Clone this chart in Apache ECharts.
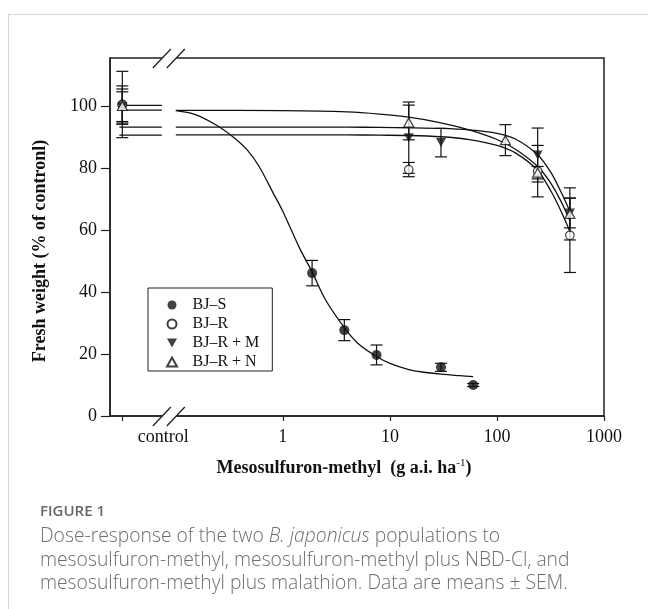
<!DOCTYPE html>
<html>
<head>
<meta charset="utf-8">
<title>Dose-response of B. japonicus</title>
<script src="https://cdn.jsdelivr.net/npm/echarts@6/dist/echarts.min.js"></script>
<style>
    html, body { margin: 0; padding: 0; background: #fff; }
    #card { position: absolute; left: 8px; top: 14px; right: 0; bottom: 0; border-top: 1px solid #d6d6d6; border-left: 1px solid #d6d6d6; }
    #chart { position: absolute; left: 0; top: 0; width: 648px; height: 609px; }
</style>
</head>
<body>
<div id="card"></div>
<div id="chart"></div>
<script>
// tick labels
var xTickDoses = ['control', 1, 10, 100, 1000];
var yTicks = [0, 20, 40, 60, 80, 100];

var sDose = ['control', 1.875, 3.75, 7.5, 30, 60];
var sMean = [100.5, 46.1, 27.7, 19.7, 15.7, 10.0];
var sSem = [10.7, 4.1, 3.4, 3.2, 1.3, 0.5];

var rDose = ['control', 15, 240, 480];
var rMean = [100.3, 79.5, 79.0, 58.3];
var rSem = [6.2, 2.3, 8.3, 12.0];

var mDose = ['control', 15, 30, 240, 480];
var mMean = [99.8, 89.8, 88.2, 84.2, 65.5];
var mSem = [4.8, 11.5, 4.6, 8.7, 4.8];

var nDose = ['control', 15, 120, 240, 480];
var nMean = [100, 94.7, 89.0, 78.5, 65.2];
var nSem = [5.5, 5.6, 5.0, 2.0, 8.4];

// fitted curves
var ctrlSegDose = [0.0297, 0.074];
var sCtrlFit = [100.2, 100.2];
var nCtrlFit = [98.7, 98.7];
var mCtrlFit = [93.2, 93.2];
var rCtrlFit = [90.6, 90.6];

var sFitDose = [0.1, 0.15, 0.24, 0.35, 0.46, 0.6, 0.81, 1.0, 1.44, 1.875, 2.5, 3.75, 5, 7.5, 10, 15, 20, 30, 45, 60];
var sFit = [98.5, 97.3, 93.8, 89.8, 86, 80.5, 72, 66, 54, 46.5, 37.5, 28.5, 23.5, 19.2, 17, 15, 14.2, 13.5, 13, 12.7];

var rFitDose = [0.1, 1, 4, 8, 15, 30, 55, 100, 150, 240, 320, 400, 480];
var nFit = [98.6, 98.5, 98.1, 97.4, 96.4, 94.6, 92.3, 89.2, 86, 80.5, 75, 69, 63];
var mFit = [93.2, 93.2, 93.2, 93.1, 93.0, 92.8, 92.3, 91.2, 89.3, 84.3, 78.5, 72, 66];
var rFit = [90.7, 90.7, 90.7, 90.6, 90.5, 90.1, 89.2, 87.3, 84.8, 79.2, 72.5, 65.8, 59.5];

var CONTROL_POS = -1.5;   // control column on the log10 dose axis
var BREAK_DOSE = 0.086;   // where the axis break sits
var X_MIN = -1.615, X_MAX = 3, Y_MAX = 115.5;

var serif = "'Times New Roman', 'Liberation Serif', serif";
var ink = '#111';

function xPos(d) {
    return d === 'control' ? CONTROL_POS : Math.log10(d);
}

var xTickPos = xTickDoses.map(xPos);

function points(doses, means) {
    return doses.map(function (d, i) { return [xPos(d), means[i]]; });
}

function bars(doses, means, sems) {
    return doses.map(function (d, i) { return [xPos(d), means[i] - sems[i], means[i] + sems[i]]; });
}

function fitData(ctrlVals, doses, vals) {
    var data = ctrlSegDose.map(function (d, i) { return [xPos(d), ctrlVals[i]]; });
    data.push([xPos(BREAK_DOSE), '-']);
    doses.forEach(function (d, i) { data.push([xPos(d), vals[i]]); });
    return data;
}

function fitSeries(name, data) {
    return {
        type: 'line',
        name: name,
        data: data,
        smooth: 0.3,
        showSymbol: false,
        symbol: 'none',
        connectNulls: false,
        lineStyle: { color: ink, width: 1.3 },
        z: 2
    };
}

var hollow = { color: '#fff', borderColor: ink, borderWidth: 1.2 };
var filled = { color: ink };

var chart = echarts.init(document.getElementById('chart'));

var option = {
    animation: false,
    grid: {
        left: 110, right: 44, top: 58, bottom: 193,
        show: true, borderColor: '#222', borderWidth: 1.5
    },
    xAxis: {
        type: 'value',
        min: X_MIN,
        max: X_MAX,
        splitLine: { show: false },
        axisLine: { show: true, onZero: false, lineStyle: { color: '#222', width: 1.5 } },
        axisTick: { show: true, inside: false, length: 5, customValues: xTickPos, lineStyle: { color: '#222', width: 1.2 } },
        axisLabel: {
            customValues: xTickPos,
            margin: 12,
            fontFamily: serif,
            fontSize: 18,
            color: ink,
            formatter: function (v) {
                for (var i = 0; i < xTickPos.length; i++) {
                    if (Math.abs(xTickPos[i] - v) < 1e-6) {
                        return i === 0 ? '{c|control}' : String(xTickDoses[i]);
                    }
                }
                return '';
            },
            rich: { c: { fontFamily: serif, fontSize: 18, color: ink, padding: [0, 0, 0, 82] } }
        }
    },
    yAxis: {
        type: 'value',
        min: 0,
        max: Y_MAX,
        splitLine: { show: false },
        axisLine: { show: true, onZero: false, lineStyle: { color: '#222', width: 1.5 } },
        axisTick: { show: true, inside: false, length: 9, customValues: yTicks, lineStyle: { color: '#222', width: 1.2 } },
        axisLabel: { customValues: yTicks, margin: 13, fontFamily: serif, fontSize: 18, color: ink }
    },
    legend: {
        data: ['BJ–S', 'BJ–R', 'BJ–R + M', 'BJ–R + N'],
        orient: 'vertical',
        left: 148,
        top: 288,
        itemWidth: 31,
        itemHeight: 9,
        itemGap: 3,
        padding: [9, 13, 1, 18],
        borderColor: '#222',
        borderWidth: 1,
        selectedMode: false,
        textStyle: { fontFamily: serif, fontSize: 16, color: ink, lineHeight: 15 }
    },
    series: [
        fitSeries('fit S', fitData(sCtrlFit, sFitDose, sFit)),
        fitSeries('fit R+N', fitData(nCtrlFit, rFitDose, nFit)),
        fitSeries('fit R+M', fitData(mCtrlFit, rFitDose, mFit)),
        fitSeries('fit R', fitData(rCtrlFit, rFitDose, rFit)),
        {
            type: 'custom',
            name: 'sem',
            z: 3,
            clip: false,
            encode: { x: 0, y: [1, 2] },
            data: [].concat(
                bars(sDose, sMean, sSem),
                bars(rDose, rMean, rSem),
                bars(mDose, mMean, mSem),
                bars(nDose, nMean, nSem)
            ),
            renderItem: function (params, api) {
                var x = api.value(0);
                var lo = api.coord([x, api.value(1)]);
                var hi = api.coord([x, api.value(2)]);
                var w = 6;
                var st = { stroke: ink, lineWidth: 1.2 };
                return {
                    type: 'group',
                    children: [
                        { type: 'line', shape: { x1: hi[0], y1: hi[1], x2: lo[0], y2: lo[1] }, style: st },
                        { type: 'line', shape: { x1: hi[0] - w, y1: hi[1], x2: hi[0] + w, y2: hi[1] }, style: st },
                        { type: 'line', shape: { x1: lo[0] - w, y1: lo[1], x2: lo[0] + w, y2: lo[1] }, style: st }
                    ]
                };
            }
        },
        {
            type: 'scatter', name: 'BJ–S', z: 4,
            symbol: 'circle', symbolSize: 10,
            itemStyle: filled,
            data: points(sDose, sMean)
        },
        {
            type: 'scatter', name: 'BJ–R', z: 4,
            symbol: 'circle', symbolSize: 8.5,
            itemStyle: hollow,
            data: points(rDose, rMean)
        },
        {
            type: 'scatter', name: 'BJ–R + M', z: 4,
            symbol: 'path://M0,0L10,0L5,9Z', symbolSize: [10, 9],
            itemStyle: filled,
            data: points(mDose, mMean)
        },
        {
            type: 'scatter', name: 'BJ–R + N', z: 4,
            symbol: 'path://M5,0L10,9L0,9Z', symbolSize: [10, 9],
            itemStyle: hollow,
            data: points(nDose, nMean)
        }
    ]
};

chart.setOption(option);

// axis break marks, placed through the grid's own coordinates
function breakMarks(y) {
    var cx = chart.convertToPixel({ gridIndex: 0 }, [xPos(BREAK_DOSE), 0])[0];
    var a = cx - 7, b = cx + 7;
    var st = { stroke: '#222', lineWidth: 1.3 };
    return [
        { type: 'polygon', z: 10, shape: { points: [[a - 9, y + 10], [a + 9, y - 9], [b + 9, y - 9], [b - 9, y + 10]] }, style: { fill: '#fff' } },
        { type: 'line', z: 11, shape: { x1: a - 9, y1: y + 10, x2: a + 9, y2: y - 9 }, style: st },
        { type: 'line', z: 11, shape: { x1: b - 9, y1: y + 10, x2: b + 9, y2: y - 9 }, style: st }
    ];
}

var yTop = chart.convertToPixel({ gridIndex: 0 }, [0, Y_MAX])[1];
var yBot = chart.convertToPixel({ gridIndex: 0 }, [0, 0])[1];

var capFont = "'Open Sans', 'Noto Sans', sans-serif";
var capColor = '#6f6f6f';
var capSize = 19.3;

function captionLine(text, y) {
    return {
        type: 'text', x: 40, y: y, z: 10,
        style: {
            text: text,
            fontFamily: capFont, fontSize: capSize, fontWeight: 300, fill: capColor,
            align: 'left', verticalAlign: 'middle', textAlign: 'left', textVerticalAlign: 'middle',
            rich: { i: { fontFamily: capFont, fontSize: capSize, fontWeight: 300, fontStyle: 'italic', fill: capColor } }
        }
    };
}

chart.setOption({
    graphic: [].concat(
        breakMarks(yTop),
        breakMarks(yBot),
        [
            {
                type: 'text', x: 40, y: 251, rotation: Math.PI / 2, z: 10,
                style: {
                    text: 'Fresh weight (% of contronl)',
                    fontFamily: serif, fontSize: 18, fontWeight: 'bold', fill: ink,
                    align: 'center', verticalAlign: 'middle', textAlign: 'center', textVerticalAlign: 'middle'
                }
            },
            {
                type: 'text', x: 344, y: 468, z: 10,
                style: {
                    text: '{b|Mesosulfuron-methyl  (g a.i. ha}{s|-1}{b|)}',
                    align: 'center', verticalAlign: 'middle', textAlign: 'center', textVerticalAlign: 'middle',
                    rich: {
                        b: { fontFamily: serif, fontSize: 18, fontWeight: 'bold', fill: ink, lineHeight: 20 },
                        s: { fontFamily: serif, fontSize: 11, fill: ink, verticalAlign: 'top', lineHeight: 20 }
                    }
                }
            },
            {
                type: 'text', x: 40, y: 512, z: 10,
                style: {
                    text: 'FIGURE 1',
                    fontFamily: capFont, fontSize: 15, fontWeight: 600, fill: '#666',
                    align: 'left', verticalAlign: 'middle', textAlign: 'left', textVerticalAlign: 'middle'
                }
            },
            captionLine('Dose-response of the two {i|B. japonicus} populations to', 537),
            captionLine('mesosulfuron-methyl, mesosulfuron-methyl plus NBD-Cl, and', 561),
            captionLine('mesosulfuron-methyl plus malathion. Data are means ± SEM.', 584)
        ]
    )
});
</script>
</body>
</html>
